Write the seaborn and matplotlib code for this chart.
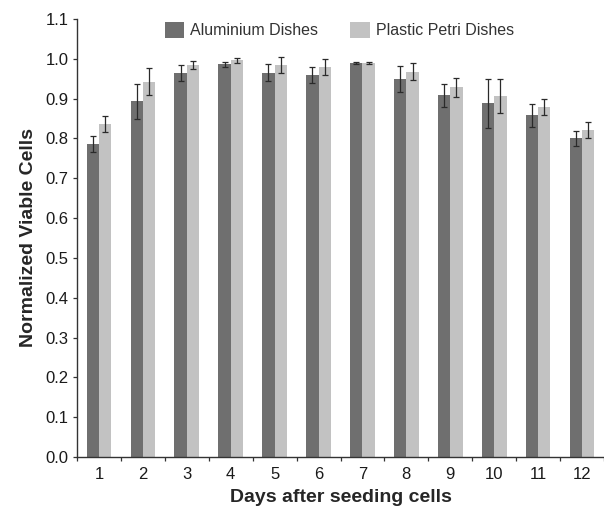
import numpy as np
import pandas as pd
import matplotlib
matplotlib.use('Agg')
import matplotlib.pyplot as plt
import seaborn as sns

# values
days = [str(d) for d in range(1, 13)]
aluminium = [0.785, 0.893, 0.964, 0.986, 0.965, 0.960, 0.990, 0.949, 0.908, 0.888, 0.858, 0.800]
aluminium_err = [0.020, 0.043, 0.020, 0.007, 0.021, 0.020, 0.002, 0.033, 0.028, 0.062, 0.028, 0.019]
plastic = [0.836, 0.943, 0.984, 0.996, 0.984, 0.979, 0.990, 0.968, 0.928, 0.907, 0.878, 0.821]
plastic_err = [0.020, 0.034, 0.010, 0.007, 0.020, 0.020, 0.002, 0.022, 0.023, 0.043, 0.020, 0.020]
series_names = ['Aluminium Dishes', 'Plastic Petri Dishes']

df = pd.DataFrame({
    'Day': days * 2,
    'Value': aluminium + plastic,
    'Dish': [series_names[0]] * 12 + [series_names[1]] * 12,
})
errors = [aluminium_err, plastic_err]

sns.set_style('white')
plt.rcParams['font.family'] = ['Liberation Sans', 'DejaVu Sans']

fig = plt.figure(figsize=(6.04, 5.08), dpi=100)
ax = fig.add_axes([77 / 604, 1 - 457 / 508, 1 - 77 / 604, (457 - 19) / 508])

sns.barplot(data=df, x='Day', y='Value', hue='Dish', order=days,
            hue_order=series_names, palette=['#6f6f6f', '#c2c2c2'],
            width=0.56, gap=0, errorbar=None, saturation=1, linewidth=0, ax=ax)

# error bars on top of each bar
for cont, err in zip(ax.containers, errors):
    xs = [b.get_x() + b.get_width() / 2 for b in cont]
    ys = [b.get_height() for b in cont]
    ax.errorbar(xs, ys, yerr=err, fmt='none', ecolor='#2a2a2a',
                elinewidth=0.9, capsize=2.2, capthick=0.9)

ax.set_ylim(0, 1.1)
ax.set_yticks(np.arange(0, 1.11, 0.1))
ax.set_yticklabels([f'{v:.1f}' for v in np.arange(0, 1.11, 0.1)])
ax.set_xlim(-0.5, -0.5 + (604 - 77) / 45)

ax.set_xticks(np.arange(-0.5, 12, 1), minor=True)
ax.tick_params(axis='x', which='major', length=0, labelsize=12, pad=7,
               labelcolor='#1a1a1a')
ax.tick_params(axis='x', which='minor', bottom=True, length=3, width=0.9,
               direction='out', color='#333333')
ax.tick_params(axis='y', which='major', left=True, length=3, width=0.9,
               direction='out', labelsize=12, color='#333333', pad=3,
               labelcolor='#1a1a1a')

for side in ['top', 'right']:
    ax.spines[side].set_visible(False)
for side in ['left', 'bottom']:
    ax.spines[side].set_color('#333333')
    ax.spines[side].set_linewidth(1.0)

ax.set_xlabel('Days after seeding cells', fontsize=14, fontweight='bold', labelpad=5)
ax.set_ylabel('Normalized Viable Cells', fontsize=14, fontweight='bold', labelpad=6)

handles, labels = ax.get_legend_handles_labels()
leg = ax.legend(handles, labels, ncol=2, loc='center', bbox_to_anchor=(0.498, 0.975),
                frameon=False, fontsize=11.5, handlelength=1.2, handleheight=1.2,
                handletextpad=0.4, columnspacing=2.0)
for t in leg.get_texts():
    t.set_color('#333333')

plt.savefig('out.png', dpi=100)
plt.close()
